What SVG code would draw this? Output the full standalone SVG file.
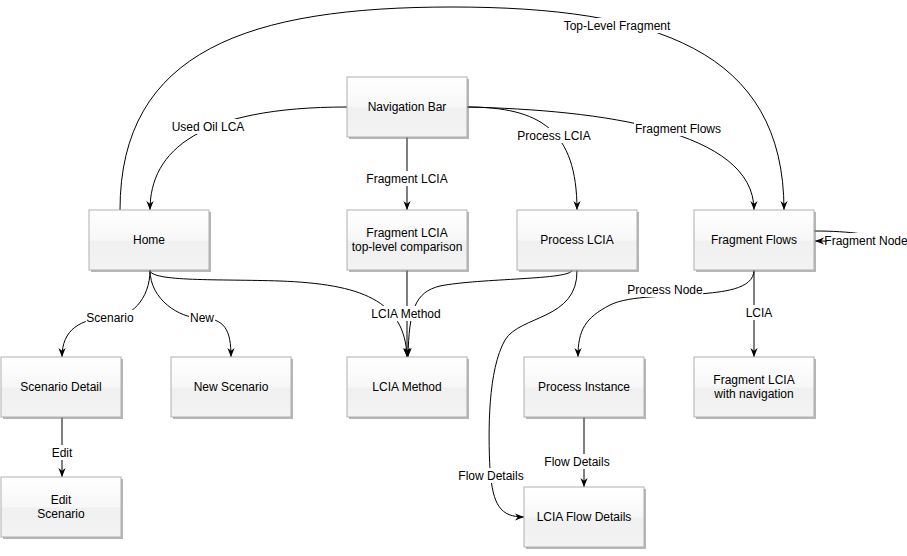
<svg xmlns="http://www.w3.org/2000/svg" width="907" height="556" viewBox="0 0 907 556">
<style>
.nb{fill:url(#g);stroke:#b0b0b0;stroke-width:1}
.sh{fill:#7a7a7a;opacity:0.55}
.t{font-family:"Liberation Sans",Arial,sans-serif;font-size:12px;fill:#000;text-anchor:middle}
.e{fill:none;stroke:#000;stroke-width:1;marker-end:url(#a)}
.lb{fill:#fff}
</style>
<defs>
<linearGradient id="g" x1="0" y1="0" x2="0" y2="1">
<stop offset="0" stop-color="#ffffff"/>
<stop offset="0.5" stop-color="#f7f7f7"/>
<stop offset="0.52" stop-color="#f0f0f0"/>
<stop offset="1" stop-color="#f3f3f3"/>
</linearGradient>
<marker id="a" viewBox="0 0 10 10" refX="10" refY="5" markerWidth="9" markerHeight="9" markerUnits="userSpaceOnUse" orient="auto">
<path d="M0,1 L10,5 L0,9 L3,5 z" fill="#000"/>
</marker>
</defs>
<g id="connectors">
<path class="e" d="M120,210 C120,50 250,7 452,7 C654,7 784,50 784,210"/>
<path class="e" d="M347,107 C200,107 150,150 150,210"/>
<path class="e" d="M407,137 L407,210"/>
<path class="e" d="M467,107 C540,107 577,130 577,210"/>
<path class="e" d="M467,107 C600,110 754,130 754,210"/>
<path class="e" d="M150,270 C150,282 220,279 280,281 C360,284 405,300 407,357"/>
<path class="e" d="M407,270 L407,357"/>
<path class="e" d="M572,270 C572,280 480,278 440,286 C415,292 409,310 408,357"/>
<path class="e" d="M577,270 C578,320 520,315 505,340 C488,370 488,430 490,470 C493,505 500,517 524,517"/>
<path class="e" d="M584,417 L584,487"/>
<path class="e" d="M754,270 C754,290 720,292 700,294 C670,297 630,295 610,305 C585,318 578,330 578,357"/>
<path class="e" d="M754,270 L754,357"/>
<path class="e" d="M814,231 C850,231 880,235 880,241 C880,245 850,241 815,241"/>
<path class="e" d="M150,270 C150,300 130,318 110,318 C80,318 62,330 62,357"/>
<path class="e" d="M150,270 C150,300 180,318 200,318 C225,318 231,330 231,357"/>
<path class="e" d="M62,417 L62,477"/>
<g id="labels">
<rect class="lb" x="562" y="18" width="110" height="15"/>
<text class="t" x="617" y="30">Top-Level Fragment</text>
<rect class="lb" x="171" y="119" width="74" height="15"/>
<text class="t" x="208" y="131">Used Oil LCA</text>
<rect class="lb" x="367" y="171" width="80" height="15"/>
<text class="t" x="407" y="183">Fragment LCIA</text>
<rect class="lb" x="517" y="128" width="74" height="15"/>
<text class="t" x="554" y="140">Process LCIA</text>
<rect class="lb" x="634" y="121" width="88" height="15"/>
<text class="t" x="678" y="133">Fragment Flows</text>
<rect class="lb" x="371" y="306" width="72" height="15"/>
<text class="t" x="406" y="318">LCIA Method</text>
<rect class="lb" x="627" y="282" width="76" height="15"/>
<text class="t" x="665" y="294">Process Node</text>
<rect class="lb" x="745" y="305" width="28" height="15"/>
<text class="t" x="759" y="317">LCIA</text>
<rect class="lb" x="827" y="233" width="78" height="15"/>
<text class="t" x="866" y="245">Fragment Node</text>
<rect class="lb" x="86" y="310" width="48" height="15"/>
<text class="t" x="110" y="322">Scenario</text>
<rect class="lb" x="189" y="310" width="26" height="15"/>
<text class="t" x="202" y="322">New</text>
<rect class="lb" x="50" y="445" width="24" height="15"/>
<text class="t" x="62" y="457">Edit</text>
<rect class="lb" x="458" y="468" width="68" height="15"/>
<text class="t" x="491" y="480">Flow Details</text>
<rect class="lb" x="543" y="454" width="68" height="15"/>
<text class="t" x="577" y="466">Flow Details</text>
</g>
</g>
<g id="nav">
<rect class="sh" x="349" y="79" width="120" height="60"/>
<rect class="nb" x="347" y="77" width="120" height="60"/>
<text class="t" x="407" y="111">Navigation Bar</text>
</g>
<g id="home">
<rect class="sh" x="91" y="212" width="120" height="60"/>
<rect class="nb" x="89" y="210" width="120" height="60"/>
<text class="t" x="149" y="244">Home</text>
</g>
<g id="fraglcia">
<rect class="sh" x="349" y="212" width="120" height="60"/>
<rect class="nb" x="347" y="210" width="120" height="60"/>
<text class="t" x="407" y="237">Fragment LCIA</text>
<text class="t" x="407" y="251">top-level comparison</text>
</g>
<g id="proclcia">
<rect class="sh" x="519" y="212" width="120" height="60"/>
<rect class="nb" x="517" y="210" width="120" height="60"/>
<text class="t" x="577" y="244">Process LCIA</text>
</g>
<g id="fragflows">
<rect class="sh" x="696" y="212" width="120" height="60"/>
<rect class="nb" x="694" y="210" width="120" height="60"/>
<text class="t" x="754" y="244">Fragment Flows</text>
</g>
<g id="scendetail">
<rect class="sh" x="3" y="359" width="120" height="60"/>
<rect class="nb" x="1" y="357" width="120" height="60"/>
<text class="t" x="61" y="391">Scenario Detail</text>
</g>
<g id="newscen">
<rect class="sh" x="173" y="359" width="120" height="60"/>
<rect class="nb" x="171" y="357" width="120" height="60"/>
<text class="t" x="231" y="391">New Scenario</text>
</g>
<g id="lciamethod">
<rect class="sh" x="349" y="359" width="120" height="60"/>
<rect class="nb" x="347" y="357" width="120" height="60"/>
<text class="t" x="407" y="391">LCIA Method</text>
</g>
<g id="procinst">
<rect class="sh" x="526" y="359" width="120" height="60"/>
<rect class="nb" x="524" y="357" width="120" height="60"/>
<text class="t" x="584" y="391">Process Instance</text>
</g>
<g id="fraglcianav">
<rect class="sh" x="696" y="359" width="120" height="60"/>
<rect class="nb" x="694" y="357" width="120" height="60"/>
<text class="t" x="754" y="384">Fragment LCIA</text>
<text class="t" x="754" y="398">with navigation</text>
</g>
<g id="editscen">
<rect class="sh" x="3" y="479" width="120" height="60"/>
<rect class="nb" x="1" y="477" width="120" height="60"/>
<text class="t" x="61" y="504">Edit</text>
<text class="t" x="61" y="518">Scenario</text>
</g>
<g id="lciaflow">
<rect class="sh" x="526" y="489" width="120" height="60"/>
<rect class="nb" x="524" y="487" width="120" height="60"/>
<text class="t" x="584" y="521">LCIA Flow Details</text>
</g>
</svg>
